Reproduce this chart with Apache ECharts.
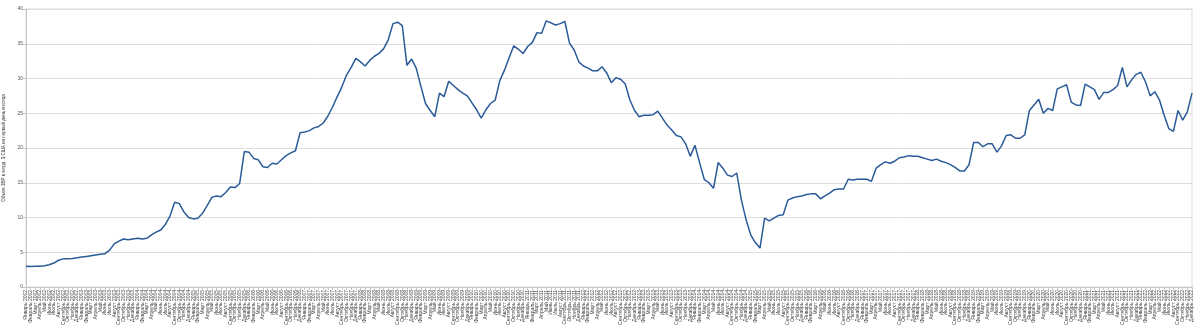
<!DOCTYPE html>
<html>
<head>
<meta charset="utf-8">
<script src="https://cdn.jsdelivr.net/npm/echarts@6/dist/echarts.min.js"></script>
<style>
html,body{margin:0;padding:0;background:#fff;}
#chart{width:1200px;height:325px;}
</style>
</head>
<body>
<div id="chart"></div>
<script>
const monthNames = ['Январь','Февраль','Март','Апрель','Май','Июнь','Июль','Август','Сентябрь','Октябрь','Ноябрь','Декабрь'];
const years = [2002,2003,2004,2005,2006,2007,2008,2009,2010,2011,2012,2013,2014,2015,2016,2017,2018,2019,2020,2021,2022];
const yTicks = [0,5,10,15,20,25,30,35,40];
const axisName = 'Объём ЗВР в млрд. $ США на первый день месяца';

const v2002 = [3.0, 2.95, 3.0, 3.0, 3.05, 3.2, 3.45, 3.85, 4.05, 4.05, 4.1, 4.2];
const v2003 = [4.3, 4.4, 4.5, 4.6, 4.7, 4.8, 5.3, 6.2, 6.6, 6.9, 6.8, 6.9];
const v2004 = [7.0, 6.9, 7.0, 7.5, 7.9, 8.2, 9.0, 10.2, 12.2, 12.0, 10.8, 10.0];
const v2005 = [9.8, 9.9, 10.6, 11.7, 12.9, 13.1, 13.0, 13.6, 14.4, 14.3, 14.9, 19.5];
const v2006 = [19.4, 18.5, 18.3, 17.3, 17.2, 17.8, 17.7, 18.3, 18.9, 19.3, 19.6, 22.2];
const v2007 = [22.3, 22.5, 22.9, 23.1, 23.6, 24.6, 25.9, 27.4, 28.8, 30.5, 31.6, 32.9];
const v2008 = [32.4, 31.8, 32.6, 33.2, 33.6, 34.3, 35.6, 37.9, 38.1, 37.6, 31.9, 32.8];
const v2009 = [31.5, 28.9, 26.4, 25.4, 24.5, 27.9, 27.4, 29.6, 29.0, 28.4, 27.9, 27.5];
const v2010 = [26.5, 25.5, 24.3, 25.5, 26.4, 26.9, 29.7, 31.2, 33.0, 34.7, 34.2, 33.6];
const v2011 = [34.6, 35.2, 36.6, 36.5, 38.3, 38.0, 37.7, 37.9, 38.2, 35.1, 34.1, 32.4];
const v2012 = [31.8, 31.5, 31.1, 31.1, 31.7, 30.8, 29.4, 30.1, 29.9, 29.2, 26.9, 25.4];
const v2013 = [24.5, 24.7, 24.7, 24.8, 25.3, 24.3, 23.3, 22.6, 21.8, 21.6, 20.6, 18.8];
const v2014 = [20.4, 17.9, 15.5, 15.0, 14.2, 17.9, 17.1, 16.1, 15.9, 16.4, 12.5, 9.7];
const v2015 = [7.5, 6.4, 5.6, 9.9, 9.5, 9.9, 10.3, 10.4, 12.5, 12.8, 13.0, 13.1];
const v2016 = [13.3, 13.4, 13.4, 12.7, 13.1, 13.5, 14.0, 14.1, 14.1, 15.5, 15.4, 15.5];
const v2017 = [15.5, 15.5, 15.2, 17.1, 17.6, 18.0, 17.8, 18.1, 18.6, 18.7, 18.9, 18.8];
const v2018 = [18.8, 18.6, 18.4, 18.2, 18.4, 18.1, 17.9, 17.6, 17.2, 16.7, 16.7, 17.6];
const v2019 = [20.8, 20.8, 20.2, 20.6, 20.6, 19.4, 20.3, 21.8, 21.9, 21.4, 21.4, 21.9];
const v2020 = [25.4, 26.2, 27.0, 25.0, 25.7, 25.4, 28.5, 28.8, 29.1, 26.6, 26.2, 26.1];
const v2021 = [29.2, 28.8, 28.4, 27.0, 28.0, 28.0, 28.4, 29.0, 31.6, 28.8, 29.8, 30.6];
const v2022 = [30.9, 29.5, 27.5, 28.1, 26.9, 24.7, 22.8, 22.4, 25.4, 24.0, 25.2, 27.9];

const values = [].concat(v2002,v2003,v2004,v2005,v2006,v2007,v2008,v2009,v2010,v2011,
  v2012,v2013,v2014,v2015,v2016,v2017,v2018,v2019,v2020,v2021,v2022);
const categories = [];
years.forEach(y => monthNames.forEach(m => categories.push(m + ' ' + y)));
categories.length = values.length;

const chart = echarts.init(document.getElementById('chart'), null, {renderer:'canvas'});
chart.setOption({
  animation:false,
  backgroundColor:'#ffffff',
  grid:{left:26,right:8,top:9,bottom:38,containLabel:false,outerBoundsMode:'none',show:true,borderColor:'#d9d9d9',borderWidth:1},
  xAxis:{
    type:'category',
    data:categories,
    boundaryGap:false,
    axisLine:{lineStyle:{color:'#c8c8c8',width:1}},
    axisTick:{show:true,interval:0,length:3,lineStyle:{color:'#c8c8c8'}},
    axisLabel:{interval:0,rotate:90,fontSize:5,color:'#444',margin:3,fontFamily:'Liberation Sans'},
    splitLine:{show:false}
  },
  yAxis:{
    type:'value',
    min:0,max:40,interval:5,
    name:axisName,
    nameLocation:'middle',
    nameRotate:90,
    nameGap:15,
    nameTextStyle:{fontSize:4.5,color:'#444',fontFamily:'Liberation Sans'},
    axisLine:{show:true,lineStyle:{color:'#c8c8c8'}},
    axisTick:{show:true,length:3,lineStyle:{color:'#c8c8c8'}},
    axisLabel:{fontSize:5,color:'#555',margin:3,fontFamily:'Liberation Sans'},
    splitLine:{lineStyle:{color:'#dedede',width:1}}
  },
  series:[{
    type:'line',
    data:values,
    symbol:'none',
    lineStyle:{color:'#2a5b98',width:1.5},
    itemStyle:{color:'#2a5b98'}
  }]
});
</script>
</body>
</html>
